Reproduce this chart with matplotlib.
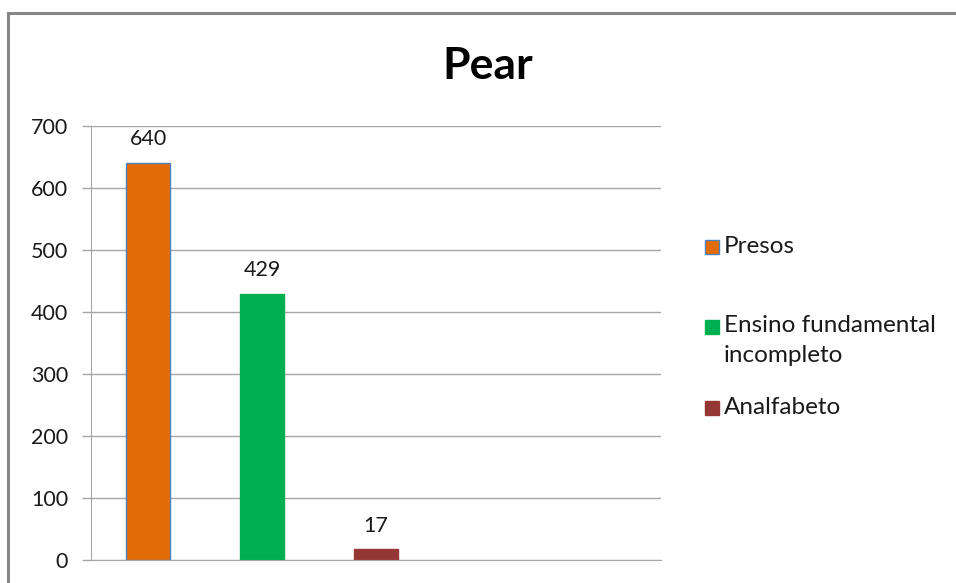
import matplotlib.pyplot as plt
from matplotlib.patches import Rectangle
from matplotlib.lines import Line2D

# dados
categorias = ['Presos', 'Ensino fundamental\nincompleto', 'Analfabeto']
valores = [640, 429, 17]
cores = ['#E36C09', '#00B050', '#953735']
bordas = ['#4F81BD', '#00B050', '#953735']
yticks = [0, 100, 200, 300, 400, 500, 600, 700]

plt.rcParams['font.family'] = ['Lato', 'DejaVu Sans']

fig = plt.figure(figsize=(9.56, 5.83), dpi=100)
ax = fig.add_axes([0.0952, 0.0395, 0.5962, 0.7445])

pos = list(range(len(valores)))
ax.bar(pos, valores, width=0.39, color=cores, edgecolor=bordas, linewidth=1, zorder=3)
for x, v in zip(pos, valores):
    ax.annotate(str(v), (x, v), xytext=(0, 10), textcoords='offset points',
                ha='center', va='bottom', fontsize=15.5, color='#1a1a1a')

ax.set_xlim(-0.5, 4.5)
ax.set_ylim(0, 700)
ax.set_yticks(yticks)
ax.set_xticks([])
ax.tick_params(axis='y', length=6.5, width=1, color='#a6a6a6', labelsize=15.5,
               labelcolor='#1a1a1a', pad=10)
ax.grid(axis='y', color='#a6a6a6', linewidth=1, zorder=0)
for s in ['top', 'right']:
    ax.spines[s].set_visible(False)
ax.spines['left'].set_color('#a6a6a6')
ax.spines['bottom'].set_color('#a6a6a6')
ax.spines['bottom'].set_zorder(4)

fig.text(0.510, 0.887, 'Pear', ha='center', va='center', fontsize=32,
         fontweight='bold', color='#000000')

# legenda manual
leg_y = [247, 327, 408]
for lab, c, e, y in zip(categorias, cores, bordas, leg_y):
    yf = 1 - y / 583
    fig.add_artist(Rectangle((705 / 956, yf - 7 / 583), 14 / 956, 14 / 583,
                             facecolor=c, edgecolor=e, linewidth=1,
                             transform=fig.transFigure))
    if '\n' in lab:
        fig.text(724 / 956, yf + 12 / 583, lab, ha='left', va='top',
                 fontsize=17.5, color='#1a1a1a', linespacing=1.55)
    else:
        fig.text(724 / 956, yf, lab, ha='left', va='center',
                 fontsize=17.5, color='#1a1a1a')

# moldura
fig.add_artist(Line2D([8 / 956, 1.01], [1 - 13 / 583] * 2, color='#868686', lw=2.2,
                      transform=fig.transFigure))
fig.add_artist(Line2D([8 / 956] * 2, [-0.01, 1 - 13 / 583], color='#868686', lw=2.2,
                      transform=fig.transFigure))

fig.savefig('out.png', dpi=100)
